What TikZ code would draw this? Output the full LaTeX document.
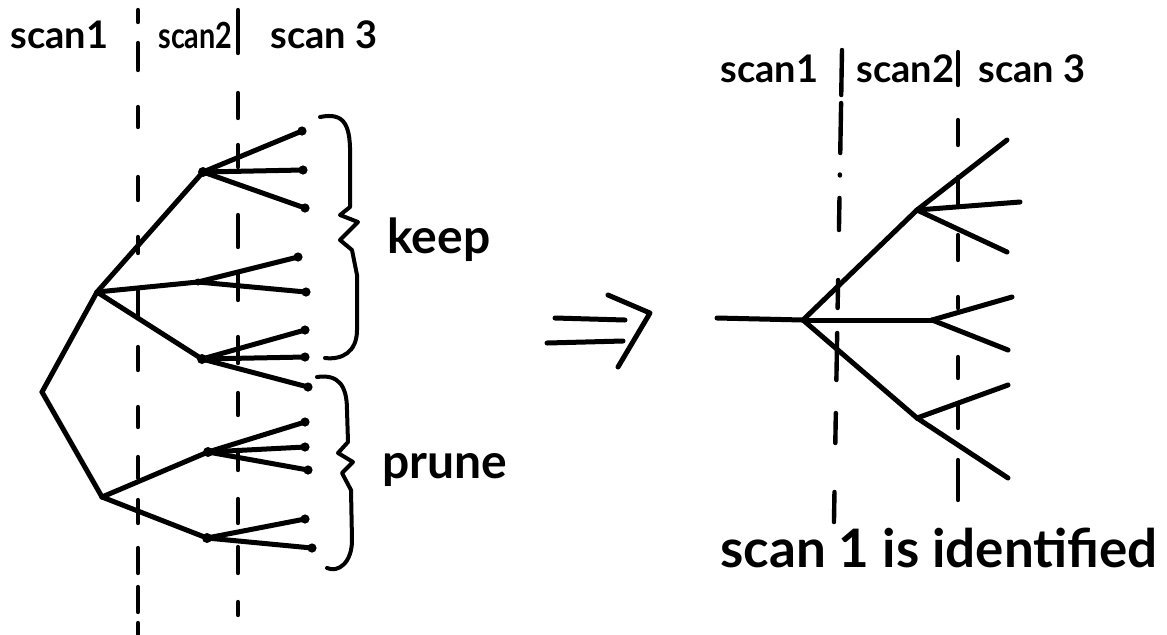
\documentclass[tikz,border=0pt]{standalone}
\usepackage{fontspec}
\setmainfont{Lato}
\begin{document}
\begin{tikzpicture}[x=0.5pt,y=-0.5pt,line cap=round,line join=round,
  edge/.style={line width=2.5pt},
  guide/.style={line width=2.2pt},
  bracestroke/.style={line width=2pt},
  leaf/.style={circle,fill,inner sep=0pt,minimum size=4.6pt},
  knot/.style={circle,fill,inner sep=0pt,minimum size=5pt},
  lbl/.style={anchor=base west,inner sep=0pt,font=\fontsize{19}{19}\selectfont\bfseries},
  narrowlbl/.style={anchor=base west,inner sep=0pt,font=\fontsize{18}{18}\selectfont\bfseries},
  big/.style={anchor=base west,inner sep=0pt,font=\fontsize{24}{24}\selectfont\bfseries},
  bottomtext/.style={anchor=base west,inner sep=0pt,font=\fontsize{26.5}{26.5}\selectfont\bfseries}]
\useasboundingbox (0,0) rectangle (1167,634);

% ---------- left: dashed scan boundaries ----------
\foreach \a/\b in {10/22,43/70,107/127,177/200,237/253,290/318,347/370,407/427,457/478,500/523,548/573,587/612,623/634}
  \draw[guide] (138,\a) -- (138,\b);
\foreach \a/\b in {10/53,93/118,145/167,215/247,273/300,337/363,393/415,450/470,499/523,547/573,602/615}
  \draw[guide] (238,\a) -- (238,\b);

% ---------- left labels ----------
\node[lbl] (l1) at (10,48) {scan1};
\node[narrowlbl] (l2) at (158,48) {\scalebox{0.8}[1]{scan2}};
\node[lbl] (l3) at (270,48) {scan 3};

% ---------- left tree ----------
\coordinate (R) at (42,392);
\coordinate (A) at (97,292);
\coordinate (B) at (102,497);
\node[knot] (A1) at (203,172) {};
\node[knot,minimum size=3.5pt] (A2) at (198,282) {};
\node[knot] (A3) at (202,359) {};
\node[knot] (B1) at (208,452) {};
\node[knot] (B2) at (207,538) {};
\node[leaf] (a11) at (302,131) {};
\node[leaf] (a12) at (303,170) {};
\node[leaf] (a13) at (305,208) {};
\node[leaf] (a21) at (298,257) {};
\node[leaf] (a22) at (306,292) {};
\node[leaf] (a31) at (305,330) {};
\node[leaf] (a32) at (305,357) {};
\node[leaf] (a33) at (308,387) {};
\node[leaf] (b11) at (305,422) {};
\node[leaf] (b12) at (305,447) {};
\node[leaf] (b13) at (308,470) {};
\node[leaf] (b21) at (305,519) {};
\node[leaf] (b22) at (312,548) {};

\draw[edge] (R) -- (A);
\draw[edge] (R) -- (B);
\draw[edge] (A) -- (A1.center);
\draw[edge] (A) -- (A2.center);
\draw[edge] (A) -- (A3.center);
\draw[edge] (B) -- (B1.center);
\draw[edge] (B) -- (B2.center);
\foreach \p/\c in {A1/a11,A1/a12,A1/a13,A2/a21,A2/a22,A3/a31,A3/a32,A3/a33,B1/b11,B1/b12,B1/b13,B2/b21,B2/b22}
  \draw[edge] (\p.center) -- (\c.center);

% ---------- braces ----------
\draw[bracestroke] (320,117) .. controls (345,112) and (351,125) .. (350,160)
  -- (350,207) -- (340,215) -- (358,222) -- (340,240) -- (352,250)
  -- (357,275) -- (357,330) .. controls (357,352) and (342,360) .. (325,358);
\node[big] (keep) at (387,253) {keep};

\draw[bracestroke] (317,377) .. controls (338,374) and (347,385) .. (347,410)
  -- (348,442) -- (338,453) -- (353,462) -- (342,473) -- (351,490)
  -- (352,540) .. controls (352,563) and (338,573) .. (327,568);
\node[big] (prune) at (382,478) {prune};

% ---------- implication arrow ----------
\draw[edge] (555,318) -- (625,320);
\draw[edge] (547,343) -- (623,341);
\draw[edge] (608,295) -- (650,313) -- (618,367);

% ---------- right: dashed scan boundaries ----------
\foreach \a/\b in {50/95,103/153,174.5/175.5,198/230,280/308,333/380,413/443,492/522}
  \draw[guide] ({842-(\a-50)*8/470},\a) -- ({842-(\b-50)*8/470},\b);
\foreach \a/\b in {52/85,120/145,177/205,235/260,297/308,357/378,403/428,460/500}
  \draw[guide] (958,\a) -- (958,\b);

% ---------- right labels ----------
\node[lbl] (r1) at (720,82) {scan1};
\node[lbl] (r2) at (856,82) {scan2};
\node[lbl] (r3) at (978,82) {scan 3};

% ---------- right tree ----------
\coordinate (S) at (717,318);
\coordinate (Q) at (803,320);
\coordinate (U) at (917,210);
\coordinate (M) at (932,320);
\coordinate (L) at (917,418);
\coordinate (u1) at (1007,140);
\coordinate (u2) at (1020,202);
\coordinate (u3) at (1007,252);
\coordinate (m1) at (1012,297);
\coordinate (m2) at (1008,350);
\coordinate (l1) at (1008,385);
\coordinate (l2) at (1008,478);
\draw[edge] (S) -- (Q);
\draw[edge] (Q) -- (U);
\draw[edge] (Q) -- (M);
\draw[edge] (Q) -- (L);
\foreach \p/\c in {U/u1,U/u2,U/u3,M/m1,M/m2,L/l1,L/l2}
  \draw[edge] (\p) -- (\c);

% ---------- bottom text ----------
\node[bottomtext] (ident) at (720,567) {scan 1 is identified};
\end{tikzpicture}
\end{document}
